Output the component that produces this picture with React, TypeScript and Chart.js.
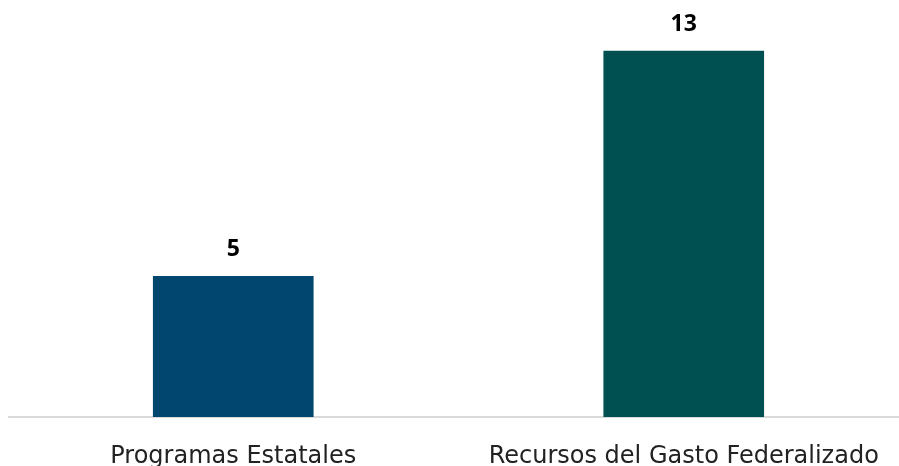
import React, { useEffect, useRef } from "react";
import { Chart, registerables } from "chart.js";

Chart.register(...registerables);

const categories = ["Programas Estatales", "Recursos del Gasto Federalizado"];
const values = [5, 13];
const barColors = ["#00466e", "#004f51"];

const valueLabels = {
  id: "valueLabels",
  afterDatasetsDraw(chart: any) {
    const ctx = chart.ctx;
    const meta = chart.getDatasetMeta(0);
    ctx.save();
    ctx.font = "bold 23px 'Open Sans', sans-serif";
    ctx.fillStyle = "#000000";
    ctx.textAlign = "center";
    ctx.textBaseline = "middle";
    meta.data.forEach((bar: any, i: number) => {
      ctx.fillText(String(values[i]), bar.x, bar.y - 27);
    });
    ctx.restore();
  },
};

export default function App() {
  const ref = useRef<HTMLCanvasElement>(null);
  useEffect(() => {
    const chart = new Chart(ref.current!, {
      type: "bar",
      data: {
        labels: categories,
        datasets: [
          {
            data: values,
            backgroundColor: barColors,
            barThickness: 160,
          },
        ],
      },
      options: {
        animation: false,
        responsive: true,
        maintainAspectRatio: false,
        layout: { padding: { top: 23, left: 0, right: 0, bottom: 0 } },
        plugins: { legend: { display: false }, tooltip: { enabled: false } },
        scales: {
          y: { display: false, min: 0, max: 14 },
          x: {
            grid: { display: false, drawTicks: false },
            border: { display: true, color: "#d9d9d9", width: 2 },
            afterFit: (scale: any) => {
              scale.height = 49;
            },
            ticks: {
              color: "#222222",
              padding: 25,
              font: { family: "'DejaVu Sans', sans-serif", size: 24 },
              maxRotation: 0,
              autoSkip: false,
            },
          },
        },
      },
      plugins: [valueLabels],
    });
    return () => chart.destroy();
  }, []);
  return (
    <div
      style={{
        position: "fixed",
        left: 0,
        top: 0,
        width: 899,
        height: 466,
        overflow: "hidden",
      }}
    >
      <div
        style={{
          position: "absolute",
          left: 8,
          top: 0,
          width: 901,
          height: 466,
        }}
      >
        <canvas ref={ref} />
      </div>
    </div>
  );
}
